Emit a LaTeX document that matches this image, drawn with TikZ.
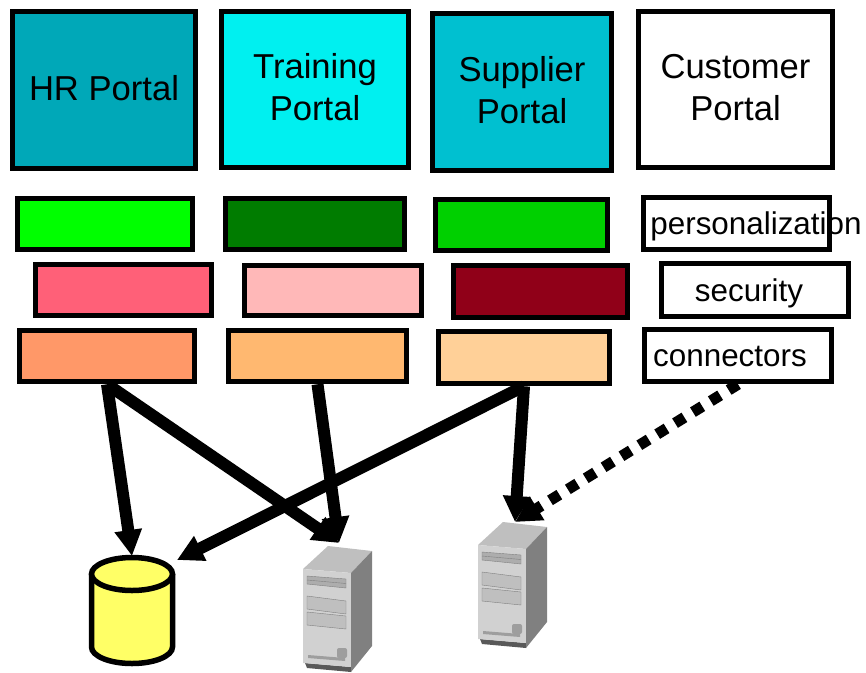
\documentclass[tikz,border=0pt]{standalone}
\usepackage{fontspec}
\setmainfont{Liberation Sans}
\usepackage{xcolor}
\usepackage{tikz}
\usetikzlibrary{arrows.meta,positioning,calc}
\definecolor{hrteal}{HTML}{00A8B8}
\definecolor{traincyan}{HTML}{00F0F0}
\definecolor{supplteal}{HTML}{00C0D0}
\definecolor{greenA}{HTML}{00FF00}
\definecolor{greenB}{HTML}{007C00}
\definecolor{greenC}{HTML}{00D000}
\definecolor{redA}{HTML}{FF6078}
\definecolor{redB}{HTML}{FFB8B8}
\definecolor{redC}{HTML}{900018}
\definecolor{orangeA}{HTML}{FF9868}
\definecolor{orangeB}{HTML}{FFB870}
\definecolor{orangeC}{HTML}{FFD098}
\definecolor{dbyellow}{HTML}{FFFF66}
\newcommand{\tagtext}[2]{\makebox[0pt]{\hspace*{#1}#2}}
\tikzset{
block/.style = {draw, rectangle, line width=5.5pt, inner sep=0pt, align=center},
portal/.style = {block, text depth=5pt, font=\fontsize{34.6}{42}\selectfont},
layer/.style = {block, text height=22.5pt, text depth=0pt, font=\fontsize{31.4}{37}\selectfont},
link/.style = {line width=12pt, -{Triangle[length=26pt,width=26pt]}},
maybe/.style = {line width=11pt, -{Triangle[length=26pt,width=26pt]}, dash pattern=on 11pt off 10pt},
server/.pic = {
    \fill [black!65] (2,94) -- (48,98) -- (48,103) -- (4,99) -- cycle;
    \fill [black!25] (0,0) -- (25,-23) -- (69,-18) -- (48,4) -- cycle;
    \fill [black!18] (0,0) -- (48,4) -- (48,98) -- (0,94) -- cycle;
    \fill [black!50] (48,4) -- (69,-18) -- (69,77) -- (48,103) -- cycle;
    \draw [black!50, fill=black!32] (4,7) -- (43,10) -- (43,19) -- (4,15) -- cycle;
    \draw [black!50] (4,11) -- (43,14.5);
    \draw [black!50, fill=black!25] (4,27) -- (43,32) -- (43,45) -- (4,40) -- cycle;
    \draw [black!50, fill=black!25] (4,43) -- (43,47) -- (43,60) -- (4,56) -- cycle;
    \fill [black!38] (5,86) -- (42,89) -- (42,92) -- (5,89) -- cycle;
    \fill [black!38, rounded corners=2pt] (34,79) rectangle (44,89);
},
database/.pic = {
    \draw [line width=5.5pt, fill=dbyellow] (-40.5,0) -- (-40.5,73) arc [start angle=180, end angle=360, x radius=40.5pt, y radius=16.5pt] -- (40.5,0);
    \draw [line width=5.5pt, fill=dbyellow] (0,0) ellipse [x radius=40.5pt, y radius=16.5pt];
}
}
\begin{document}
\begin{tikzpicture}[x=1pt, y=-1pt]
        \useasboundingbox (0,0) rectangle (866,672);
        % portals
        \node [portal, fill=hrteal, minimum width=183pt, minimum height=157pt] (hr) at (104,90) {HR Portal};
        \node [portal, fill=traincyan, minimum width=187pt, minimum height=156pt] (training) at (315,89.5) {Training\\Portal};
        \node [portal, fill=supplteal, minimum width=179pt, minimum height=157pt] (supplier) at (522,92) {Supplier\\Portal};
        \node [portal, fill=white, minimum width=194pt, minimum height=156pt] (customer) at (735.5,89.5) {Customer\\Portal};
        % personalization row
        \node [layer, fill=greenA, minimum width=175pt, minimum height=51pt] (hr_pers) at (105,224) {};
        \node [layer, fill=greenB, minimum width=179pt, minimum height=51pt] (training_pers) at (315,224) {};
        \node [layer, fill=greenC, minimum width=172pt, minimum height=51pt] (supplier_pers) at (521.5,225) {};
        \node [layer, fill=white, minimum width=186pt, minimum height=52pt] (customer_pers) at (736.5,223.5) {\tagtext{39pt}{personalization}};
        % security row
        \node [layer, fill=redA, minimum width=176pt, minimum height=51pt] (hr_sec) at (123.5,290) {};
        \node [layer, fill=redB, minimum width=177pt, minimum height=50pt] (training_sec) at (333,290.5) {};
        \node [layer, fill=redC, minimum width=174pt, minimum height=52pt] (supplier_sec) at (540.5,291.5) {};
        \node [layer, fill=white, minimum width=187pt, minimum height=53pt] (customer_sec) at (755,290) {\tagtext{-12pt}{security}};
        % connectors row
        \node [layer, fill=orangeA, minimum width=175pt, minimum height=51pt] (hr_conn) at (107,356) {};
        \node [layer, fill=orangeB, minimum width=178pt, minimum height=51pt] (training_conn) at (317.5,356) {};
        \node [layer, fill=orangeC, minimum width=171pt, minimum height=52pt] (supplier_conn) at (524,357.5) {};
        \node [layer, fill=white, minimum width=187pt, minimum height=52pt] (customer_conn) at (738,355.5) {\tagtext{-16pt}{connectors}};
        % back ends
        \pic at (132,574) {database};
        \pic at (303,569) {server};
        \pic at (478,545) {server};
        \coordinate (db_top) at (132,556);
        \coordinate (db_in) at (177,560);
        \coordinate (srv1_in) at (339,543);
        \coordinate (srv2_in) at (515,522);
        \draw [link] (hr_conn.south) -- (db_top);
        \draw [link] (hr_conn.south) -- (srv1_in);
        \draw [link] (training_conn.south) -- (srv1_in);
        \draw [link] (supplier_conn.south) -- (db_in);
        \draw [link] (supplier_conn.south) -- (srv2_in);
        \draw [maybe] (customer_conn.south) -- (srv2_in);
\end{tikzpicture}
\end{document}
